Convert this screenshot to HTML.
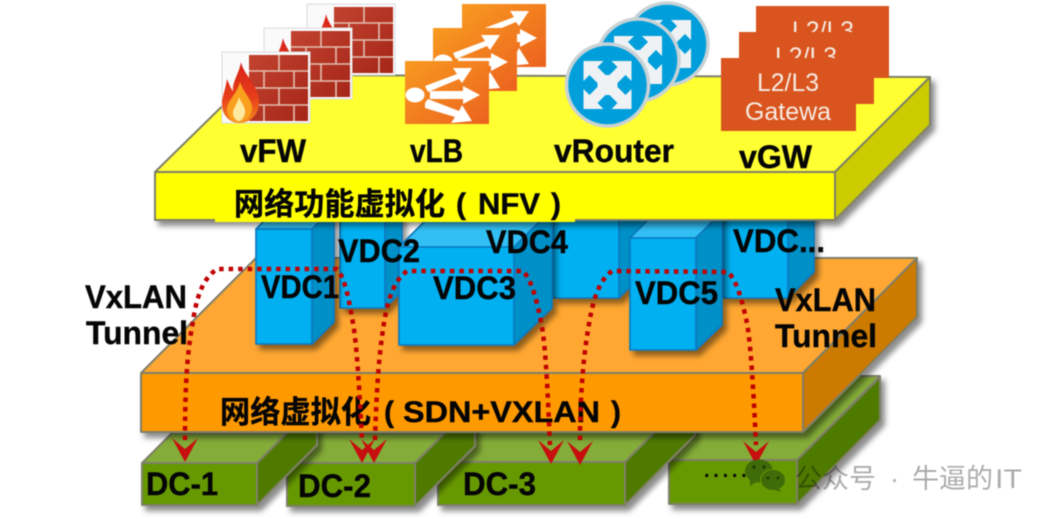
<!DOCTYPE html>
<html>
<head>
<meta charset="utf-8">
<style>
html,body{margin:0;padding:0;background:#fff;width:1056px;height:519px;overflow:hidden}
svg{display:block;filter:blur(0.45px)}
text{font-family:"Liberation Sans","Noto Sans CJK SC",sans-serif}
.b{font-weight:700;fill:#050505;font-size:32px;stroke:#050505;stroke-width:.4}
.s{font-weight:700;fill:#050505;font-size:30px;stroke:#050505;stroke-width:.4}
.c{font-weight:700;fill:#050505;font-size:31px;stroke:#050505;stroke-width:.35}
.g{fill:#f7ebe3;font-size:25px}
.w{font-size:27px;fill:#000;fill-opacity:.33}
.front,.side,.top{stroke:#7f7f6a;stroke-width:2;stroke-linejoin:round}
.v{stroke:#0a78c0;stroke-width:1.6;stroke-linejoin:round}
.red{fill:none;stroke:#c00000;stroke-width:4.5;stroke-dasharray:4.5 5}
</style>
</head>
<body>
<svg width="1056" height="519" viewBox="0 0 1056 519" xmlns="http://www.w3.org/2000/svg">
<defs>
<filter id="sh" x="-20%" y="-20%" width="140%" height="150%">
<feDropShadow dx="4" dy="5" stdDeviation="3" flood-color="#000" flood-opacity=".45"/>
</filter>
<linearGradient id="brick" x1="0" y1="0" x2="1" y2="1">
<stop offset="0" stop-color="#c2432f"/><stop offset="1" stop-color="#a52618"/>
</linearGradient>
<linearGradient id="lb" x1="0" y1="0" x2="1" y2="1">
<stop offset="0" stop-color="#f89a20"/><stop offset="1" stop-color="#ec621f"/>
</linearGradient>
<linearGradient id="fl" x1="0" y1="0" x2="0" y2="1">
<stop offset="0" stop-color="#d8201a"/><stop offset=".6" stop-color="#e8401a"/><stop offset="1" stop-color="#f58a1f"/>
</linearGradient>
<g id="fw">
<rect x="0" y="0" width="88" height="71" fill="#fafafa" stroke="#dcdcdc"/>
<rect x="27" y="3" width="59" height="66" fill="url(#brick)"/>
<g stroke="#e4bfb0" stroke-width="1.6" fill="none">
<path d="M27 19H86M27 36H86M27 53H86"/>
<path d="M57 3V19M42 19V36M72 19V36M57 36V53M42 53V69M72 53V69"/>
</g>
<path d="M19 10C22 24 38 34 37 52C36 64 27 71 18 71C7 71 0 63 0 52C0 44 3 40 5 27C8 34 9 37 11 39C10 30 17 22 19 10Z" fill="url(#fl)"/>
<path d="M18 30C22 42 31 48 30 57C29 65 24 70 17 70C10 70 5 64 5 57C5 49 15 42 18 30Z" fill="#f9a01e"/>
<path d="M17 45C20 52 24 56 23 61C22 66 19 69 17 69C14 69 11 65 11 61C11 56 16 51 17 45Z" fill="#ffe9a0"/>
</g>
<g id="lbi">
<rect width="84" height="63" fill="url(#lb)"/>
<ellipse cx="10" cy="34" rx="9.5" ry="7.5" fill="#fff"/>
<g fill="#fff">
<path d="M20 25L52 13L48 7L67 7L57 22L54 18L23 31Z"/>
<path d="M25 30H58V25L75 34L58 43V38H25Z"/>
<path d="M20 42L23 38L54 50L57 44L67 60L46 62L50 56L20 47Z"/>
</g>
</g>
<g id="rt">
<circle r="41" fill="#009fdb" stroke="#c9d2d6" stroke-width="3.5"/>
<g fill="#eef2f5">
<path id="ar" d="M24-24L4-24L10-18L2-10L0-10L0 0L10 0L10-2L18-10L24-4Z"/>
<use href="#ar" transform="rotate(90)"/>
<use href="#ar" transform="rotate(180)"/>
<use href="#ar" transform="rotate(270)"/>
</g>
</g>
<path id="ah" d="M0 0L-13-24L0-13L13-24Z" fill="#c80f0f"/>
</defs>

<rect width="1056" height="519" fill="#fff"/>

<!-- DC boxes -->
<g filter="url(#sh)">
<polygon points="696,433 820,376 880,376 797,460 669,460" fill="#84ac38" class="top"/>
<polygon points="797,460 880,377 880,420 797,504" fill="#4f7a00" class="side"/>
<rect x="669" y="460" width="128" height="44" fill="#669900" class="front"/>
</g>
<g filter="url(#sh)">
<polygon points="468,432 655,432 625,462 438,462" fill="#84ac38" class="top"/>
<polygon points="625,462 695,392 695,435 625,505" fill="#4f7a00" class="side"/>
<rect x="438" y="462" width="187" height="43" fill="#669900" class="front"/>
</g>
<g filter="url(#sh)">
<polygon points="317,433 445,433 415,463 287,463" fill="#84ac38" class="top"/>
<polygon points="415,463 475,403 475,446 415,506" fill="#4f7a00" class="side"/>
<rect x="287" y="463" width="128" height="43" fill="#669900" class="front"/>
</g>
<g filter="url(#sh)">
<polygon points="172,433 287,433 257,463 142,463" fill="#84ac38" class="top"/>
<polygon points="257,463 317,403 317,445 257,505" fill="#4f7a00" class="side"/>
<rect x="142" y="463" width="115" height="42" fill="#669900" class="front"/>
</g>

<!-- Orange layer -->
<g filter="url(#sh)">
<polygon points="141,373 256,258 917,258 803,373" fill="#ffa733" class="top"/>
<polygon points="803,373 917,258 917,317 803,432" fill="#cc7a00" class="side"/>
<rect x="141" y="373" width="662" height="59" fill="#ff9900" class="front"/>
</g>

<!-- VDC boxes -->
<g filter="url(#sh)">
<polygon points="788,200 814,200 814,272 788,298" fill="#0090c8" class="v"/>
<rect x="723" y="200" width="65" height="98" fill="#00b0f0" class="v"/>
</g>
<g filter="url(#sh)">
<polygon points="619,200 650,200 650,267 619,298" fill="#0090c8" class="v"/>
<rect x="553" y="200" width="66" height="98" fill="#00b0f0" class="v"/>
</g>
<g filter="url(#sh)">
<polygon points="385,200 402,200 402,291 385,308" fill="#0090c8" class="v"/>
<rect x="340" y="200" width="45" height="108" fill="#00b0f0" class="v"/>
</g>
<g filter="url(#sh)">
<polygon points="399,247 437,209 552,209 514,247" fill="#33c0f4" class="v"/>
<polygon points="514,247 552,209 552,308 514,345" fill="#0090c8" class="v"/>
<rect x="399" y="247" width="115" height="98" fill="#00b0f0" class="v"/>
</g>
<g filter="url(#sh)">
<polygon points="256,229 278,207 334,207 312,229" fill="#33c0f4" class="v"/>
<polygon points="312,229 334,207 334,322 312,344" fill="#0090c8" class="v"/>
<rect x="256" y="229" width="56" height="115" fill="#00b0f0" class="v"/>
</g>
<g filter="url(#sh)">
<polygon points="630,238 656,212 722,212 696,238" fill="#33c0f4" class="v"/>
<polygon points="696,238 722,212 722,325 696,350" fill="#0090c8" class="v"/>
<rect x="630" y="238" width="66" height="112" fill="#00b0f0" class="v"/>
</g>

<!-- Yellow layer -->
<g filter="url(#sh)">
<polygon points="155,172 254,75 930,77 835,172" fill="#ffff33" class="top"/>
<polygon points="835,172 930,77 930,125 835,220" fill="#cccc00" class="side"/>
<rect x="155" y="172" width="680" height="48" fill="#ffff00" class="front"/>
</g>
<rect x="215" y="176" width="360" height="46" fill="#ffff00"/>

<!-- Icons -->
<use href="#fw" x="307" y="4"/>
<use href="#fw" x="264" y="28"/>
<use href="#fw" x="222" y="52"/>
<use href="#lbi" x="462" y="4"/>
<use href="#lbi" x="433" y="28"/>
<use href="#lbi" x="405" y="61"/>
<use href="#rt" transform="translate(667,44)"/>
<use href="#rt" transform="translate(638,60)"/>
<use href="#rt" transform="translate(607.5,85)"/>

<rect x="756" y="6" width="133" height="72" fill="#d9541e"/>
<text class="g" x="792" y="39" textLength="62" lengthAdjust="spacingAndGlyphs">L2/L3</text>
<rect x="739" y="32" width="135" height="72" fill="#d9541e"/>
<text class="g" x="775" y="65" textLength="62" lengthAdjust="spacingAndGlyphs">L2/L3</text>
<rect x="721" y="58" width="135" height="73" fill="#d9541e"/>
<text class="g" x="757" y="91" textLength="62" lengthAdjust="spacingAndGlyphs">L2/L3</text>
<text class="g" x="745" y="120" textLength="86" lengthAdjust="spacingAndGlyphs">Gatewa</text>

<!-- Labels -->
<text class="b" x="240" y="162" textLength="66" lengthAdjust="spacingAndGlyphs">vFW</text>
<text class="b" x="410" y="162" textLength="53" lengthAdjust="spacingAndGlyphs">vLB</text>
<text class="b" x="554" y="162" textLength="120" lengthAdjust="spacingAndGlyphs">vRouter</text>
<text class="b" x="739" y="168" textLength="73" lengthAdjust="spacingAndGlyphs">vGW</text>

<text class="c" x="234" y="215" textLength="211" lengthAdjust="spacingAndGlyphs">网络功能虚拟化</text>
<text class="s" x="456" y="214">(</text>
<text class="s" x="478" y="214" textLength="62" lengthAdjust="spacingAndGlyphs">NFV</text>
<text class="s" x="551" y="214">)</text>

<text class="b" x="261" y="298" textLength="78" lengthAdjust="spacingAndGlyphs">VDC1</text>
<text class="b" x="338" y="262" textLength="82" lengthAdjust="spacingAndGlyphs">VDC2</text>
<text class="b" x="433" y="299" textLength="83" lengthAdjust="spacingAndGlyphs">VDC3</text>
<text class="b" x="486" y="253" textLength="82" lengthAdjust="spacingAndGlyphs">VDC4</text>
<text class="b" x="635" y="304" textLength="83" lengthAdjust="spacingAndGlyphs">VDC5</text>
<text class="b" x="733" y="252" textLength="92" lengthAdjust="spacingAndGlyphs">VDC...</text>

<text class="b" x="85" y="308" textLength="102" lengthAdjust="spacingAndGlyphs">VxLAN</text>
<text class="b" x="86" y="344" textLength="102" lengthAdjust="spacingAndGlyphs">Tunnel</text>
<text class="b" x="775" y="311" textLength="101" lengthAdjust="spacingAndGlyphs">VxLAN</text>
<text class="b" x="775" y="347" textLength="102" lengthAdjust="spacingAndGlyphs">Tunnel</text>

<text class="c" x="220" y="423" textLength="151" lengthAdjust="spacingAndGlyphs">网络虚拟化</text>
<text class="s" x="384" y="422">(</text>
<text class="s" x="403" y="422" textLength="197" lengthAdjust="spacingAndGlyphs">SDN+VXLAN</text>
<text class="s" x="611" y="422">)</text>

<text class="b" x="146" y="495" textLength="72" lengthAdjust="spacingAndGlyphs">DC-1</text>
<text class="b" x="298" y="497" textLength="73" lengthAdjust="spacingAndGlyphs">DC-2</text>
<text class="b" x="463" y="495" textLength="73" lengthAdjust="spacingAndGlyphs">DC-3</text>
<text x="704" y="477" style="font-size:20px;font-weight:700;fill:#050505" textLength="52">......</text>

<!-- Red tunnels -->
<path class="red" d="M185 440C185 400 186 360 192 327C196 300 201 280 217 269L337 269C345 278 349 300 353 323C357 345 360 400 362 442"/>
<path class="red" d="M375 440C376 405 378 365 382 337C386 305 392 282 407 271L523 271C532 280 538 305 542 327C546 350 548 400 550 445"/>
<path class="red" d="M580 440C580 410 582 365 588 330C592 305 597 282 612 271L728 272C738 282 743 305 747 323C751 345 754 400 756 445"/>
<use href="#ah" x="185" y="462"/>
<use href="#ah" x="362" y="463"/>
<use href="#ah" x="374" y="463"/>
<use href="#ah" x="551" y="464"/>
<use href="#ah" x="580" y="465"/>
<use href="#ah" x="756" y="465"/>

<!-- Watermark -->
<g fill="#3f6b08">
<ellipse cx="759" cy="471" rx="14" ry="11.5"/>
<path d="M750 478L750 486L758 481Z"/>
<ellipse cx="773" cy="480" rx="12.5" ry="10.5" stroke="#669900" stroke-width="1"/>
<path d="M778 487L781 492L772 489Z"/>
</g>
<g fill="#1d3a00">
<circle cx="754" cy="467" r="1.6"/><circle cx="764" cy="467" r="1.6"/>
</g>
<g fill="#243f00">
<circle cx="768" cy="478" r="1.5"/><circle cx="778" cy="478" r="1.5"/>
</g>
<text class="w" x="795" y="488">公众号</text>
<text class="w" x="890" y="488">·</text>
<text class="w" x="912" y="488">牛逼的</text>
<text class="w" x="995" y="488" textLength="27" lengthAdjust="spacingAndGlyphs">IT</text>
</svg>
</body>
</html>
